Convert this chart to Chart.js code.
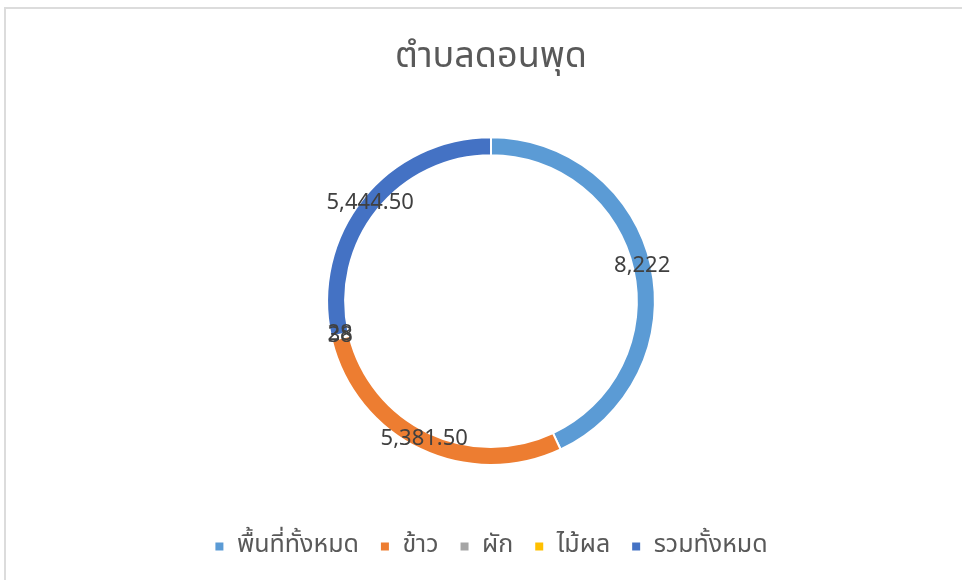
<!DOCTYPE html>
<html>
<head>
<meta charset="utf-8">
<script src="https://cdn.jsdelivr.net/npm/chart.js@4.4.1/dist/chart.umd.min.js"></script>
<style>
  html, body { margin: 0; padding: 0; background: #fff; overflow: hidden; }
  #frame { position: absolute; left: 4px; top: 7px; width: 1000px; height: 620px; border-top: 2px solid #dcdcdc; border-left: 2px solid #dcdcdc; box-sizing: border-box; }
  #wrap { position: absolute; left: 0; top: 0; width: 962px; height: 580px; }
</style>
</head>
<body>
<div id="frame"></div>
<div id="wrap"><canvas id="donutChart"></canvas></div>
<script>
// data
const chartTitle = 'ตำบลดอนพุด';
const categories = ['พื้นที่ทั้งหมด', 'ข้าว', 'ผัก', 'ไม้ผล', 'รวมทั้งหมด'];
const areaValues = [8222, 5381.5, 38, 28, 5444.5];
const valueLabels = ['8,222', '5,381.50', '38', '28', '5,444.50'];
const sliceColors = ['#5B9BD5', '#ED7D31', '#A5A5A5', '#FFC000', '#4472C4'];

const thaiFont = "'Noto Sans Thai', 'Leelawadee UI', Tahoma, 'Noto Sans', sans-serif";

// value labels sit in the middle of the ring
const ringLabels = {
    id: 'ringLabels',
    afterDatasetsDraw(chart) {
        const ctx = chart.ctx;
        const meta = chart.getDatasetMeta(0);
        ctx.save();
        ctx.font = '22px ' + thaiFont;
        ctx.fillStyle = '#404040';
        ctx.textAlign = 'center';
        ctx.textBaseline = 'middle';
        meta.data.forEach((arc, i) => {
            const p = arc.getProps(['x', 'y', 'startAngle', 'endAngle', 'innerRadius', 'outerRadius'], true);
            const mid = (p.startAngle + p.endAngle) / 2;
            const r = (p.innerRadius + p.outerRadius) / 2;
            ctx.fillText(valueLabels[i], p.x + Math.cos(mid) * r, p.y + Math.sin(mid) * r);
        });
        ctx.restore();
    }
};

const donutChart = document.getElementById('donutChart');

const donutChartConfig = {
    type: 'doughnut',
    data: {
        labels: categories,
        datasets: [
            {
                data: areaValues,
                backgroundColor: sliceColors,
                borderColor: '#ffffff',
                borderWidth: 2
            }
        ]
    },
    options: {
        responsive: true,
        maintainAspectRatio: false,
        animation: false,
        cutout: '89%',
        layout: {
            padding: { left: 20, right: 0, top: 0, bottom: 11 }
        },
        plugins: {
            title: {
                display: true,
                text: chartTitle,
                color: '#595959',
                font: { family: thaiFont, size: 36, weight: 'normal' },
                padding: { top: 38, bottom: 55 }
            },
            // empty spacer between ring and legend
            subtitle: {
                display: true,
                text: ' ',
                position: 'bottom',
                weight: 500,
                font: { size: 10 },
                padding: { top: 35, bottom: 0 }
            },
            legend: {
                position: 'bottom',
                weight: 2000,
                labels: {
                    color: '#595959',
                    font: { family: thaiFont, size: 25 },
                    boxWidth: 10,
                    boxHeight: 10,
                    padding: 21
                }
            },
            tooltip: { enabled: false }
        }
    },
    plugins: [ringLabels]
};

const donutChartInstance = new Chart(donutChart, donutChartConfig);
</script>
</body>
</html>
